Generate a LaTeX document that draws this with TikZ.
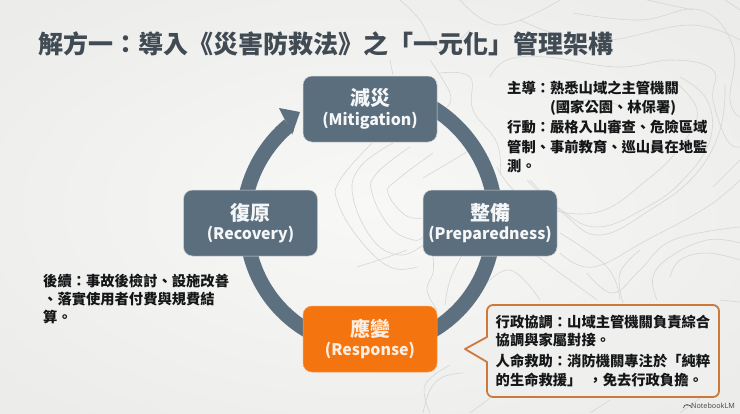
\documentclass[tikz,border=0pt]{standalone}
\usepackage{fontspec}
\setmainfont{Noto Sans CJK TC}
\newfontfamily\latinbold{Noto Sans}
\usetikzlibrary{calc}
\definecolor{slatebox}{HTML}{5B6E7D}
\definecolor{ringcol}{HTML}{5D7080}
\definecolor{orangebox}{HTML}{F4750F}
\definecolor{orangeline}{HTML}{CC7A3C}
\definecolor{titlecol}{HTML}{414B53}
\definecolor{bodycol}{HTML}{141617}
\definecolor{contour}{HTML}{D6D6D5}
\definecolor{bginner}{HTML}{F8F8F7}
\definecolor{bgouter}{HTML}{ECECEB}
\definecolor{calloutfill}{HTML}{EFEFEE}
\tikzset{
  stagebox/.style={draw=white!70!slatebox,line width=.5pt,fill=slatebox,rounded corners=9pt,minimum width=134pt,minimum height=66pt,inner sep=0pt,text=white!94!slatebox,align=center},
  bodytext/.style={anchor=north west,inner sep=0pt,align=left,text=bodycol,font=\bfseries\fontsize{14.3}{19.6}\selectfont},
  ringarc/.style={draw=ringcol,line width=15pt,line cap=butt},
  topo/.style={draw=contour,line width=.6pt},
}
\newcommand{\stagelabel}[2]{{\fontsize{20}{24}\selectfont\bfseries #1}\\[3pt]{\fontsize{15.9}{20}\selectfont\bfseries #2}}
\newcommand{\topoline}[1]{\draw[topo] plot[smooth,tension=.7] coordinates {#1};}
\begin{document}
\begin{tikzpicture}[x=1pt,y=-1pt]
\useasboundingbox (0,0) rectangle (740,413);
\shade[inner color=bginner,outer color=bgouter] (-120,-60) rectangle (860,473);
% contour background
\topoline{(372,143)(340,180)(338,203)(360,240)(390,267)(417,267)}
\topoline{(393,143)(360,167)(353,197)(373,240)(400,255)(423,245)}
\topoline{(410,147)(377,173)(372,193)(390,227)(413,240)(423,237)}
\topoline{(433,153)(397,180)(388,193)(405,215)(423,218)}
\topoline{(423,178)(445,165)(470,150)}
\topoline{(433,257)(433,273)(427,290)(437,310)}
\topoline{(462,255)(450,280)(445,305)}
\topoline{(390,60)(393,75)}
\topoline{(430,60)(450,93)(447,107)}
\topoline{(470,30)(440,50)(420,20)(400,0)}
\topoline{(440,73)(470,77)(473,110)(497,143)(500,175)}
\topoline{(490,77)(507,60)(547,57)(617,67)(673,60)(713,70)(713,100)(727,140)(740,147)}
\topoline{(573,13)(640,20)(700,10)(733,47)(730,100)(740,117)}
\topoline{(497,167)(527,200)(593,213)(647,180)(683,143)(697,110)(673,80)}
\topoline{(530,180)(565,215)(600,235)(650,210)(695,175)(720,130)(725,85)}
\topoline{(560,253)(593,267)(647,240)(707,207)(740,180)}
\topoline{(587,273)(613,293)(640,270)(673,240)(740,227)}
\topoline{(670,277)(680,260)(707,253)(740,260)}
\topoline{(657,300)(653,277)(670,257)(707,240)(740,243)}
\topoline{(623,303)(620,273)(640,250)}
\topoline{(720,300)(740,302)}
\topoline{(590,413)(610,400)}
\topoline{(680,413)(700,398)}
\topoline{(470,413)(490,398)}
\topoline{(430,413)(425,385)(450,365)}
\topoline{(423,413)(430,390)(443,377)(463,373)}
\topoline{(520,20)(560,35)(610,40)(690,25)(740,40)}
\topoline{(460,0)(500,25)(560,0)}
\topoline{(560,110)(585,100)(620,105)}
\topoline{(480,290)(510,270)(540,300)}
\topoline{(500,240)(527,250)(560,273)(597,300)}
\topoline{(560,233)(607,267)(620,300)}
\topoline{(680,77)(707,100)(710,140)(683,180)(647,207)(597,227)(557,207)(527,180)}
\topoline{(713,187)(740,160)}
\topoline{(357,267)(385,258)(407,250)}
\topoline{(725,0)(740,10)}
\topoline{(647,0)(693,10)}

% ring
\coordinate (ringtl) at (372,224);
\coordinate (ringtr) at (364,220);
\coordinate (ringb) at (370,224);
\draw[ringarc] ([shift={(166:129pt)}]ringtl) arc[start angle=166,end angle=130,radius=129pt];
\draw[ringarc] ([shift={(62:131.6pt)}]ringtr) arc[start angle=62,end angle=8,radius=131.6pt];
\draw[ringarc] ([shift={(-5:123.5pt)}]ringb) arc[start angle=-5,end angle=-65,radius=123.5pt];
\draw[ringarc] ([shift={(-115:123.5pt)}]ringb) arc[start angle=-115,end angle=-175,radius=123.5pt];
\coordinate (headtip) at (300,112);
\coordinate (heada) at (279,108);
\coordinate (headb) at (292,135);
\coordinate (headn1) at (285,120);
\coordinate (headn2) at (290,127);
\fill[ringcol] (headtip) -- (headb) -- (headn2) -- (headn1) -- (heada) -- cycle;

% stages
\node[stagebox] (mit) at (370,109) {\stagelabel{減災}{(Mitigation)}};
\node[stagebox] (rec) at (250.5,223) {\stagelabel{復原}{(Recovery)}};
\node[stagebox] (pre) at (490,223) {\stagelabel{整備}{(Preparedness)}};
\node[stagebox,fill=orangebox,draw=orangebox!70!white,text=white!88!orangebox] (res) at (370,339) {\stagelabel{應變}{(Response)}};

% title
\node[anchor=base west,inner sep=0pt,text=titlecol,font=\bfseries\fontsize{25}{28}\selectfont] (title) at (38,53) {解方一：導入《災害防救法》之「一元化」管理架構};

% side text
\node[bodytext] (mittext) at (507,80.5) {主導：熟悉山域之主管機關\\\hspace*{43pt}(國家公園、林保署)\\[.6pt]行動：嚴格入山審查、危險區域\\管制、事前教育、巡山員在地監\\[-1pt]測。};
\node[bodytext,font=\bfseries\fontsize{14.3}{18.2}\selectfont] (rectext) at (43,273.5) {後續：事故後檢討、設施改善\\、落實使用者付費與規費結\\算。};

% callout
\coordinate (ctip) at (465,349);
\coordinate (cup) at (487,337);
\coordinate (cdown) at (487,362);
\draw[draw=orangeline,fill=calloutfill,line width=1.8pt,line join=round]
  (ctip) -- (cup) -- (487,311) arc[start angle=180,end angle=90,radius=6pt] -- (713,305) arc[start angle=90,end angle=0,radius=6pt] -- (719,391) arc[start angle=0,end angle=-90,radius=6pt] -- (493,397) arc[start angle=-90,end angle=-180,radius=6pt] -- (cdown) -- cycle;
\node[bodytext,font=\bfseries\fontsize{14.3}{18.7}\selectfont] (restext) at (495.5,314.5) {行政協調：山域主管機關負責綜合\\協調與家屬對接。\\[2pt]人命救助：消防機關專注於「純粹\\的生命救援」\hspace{7pt}，免去行政負擔。};

% watermark
\node[anchor=base east,inner sep=0pt,text=black!70,font=\latinbold\fontsize{7.2}{9}\selectfont] (nlm) at (735,408) {NotebookLM};
\draw[black!70,line width=.7pt] (683.5,408) arc[start angle=180,end angle=60,radius=3.4pt] (691.5,408) arc[start angle=0,end angle=120,radius=3pt];
\end{tikzpicture}
\end{document}
